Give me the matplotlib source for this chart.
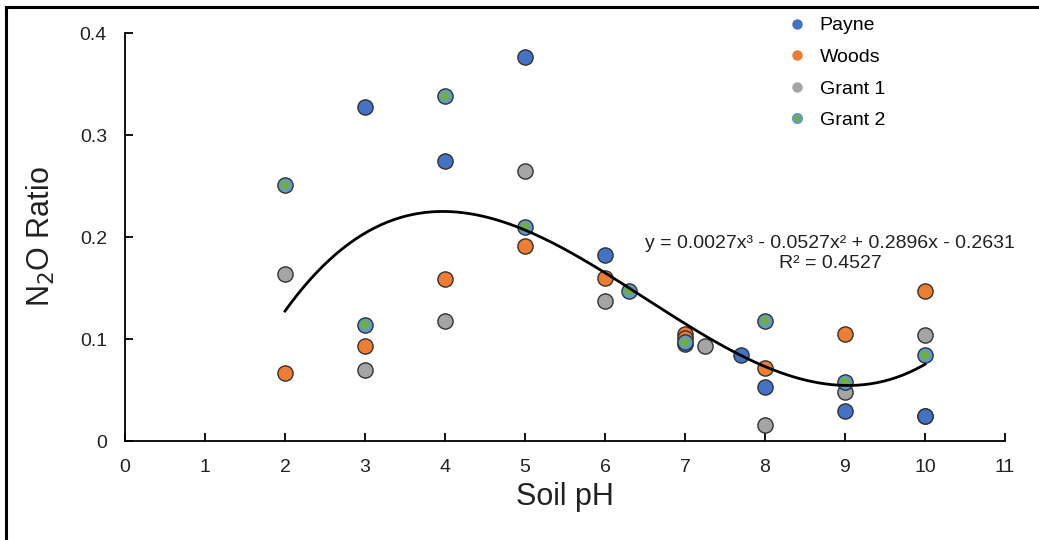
import numpy as np
import matplotlib
matplotlib.use("Agg")
import matplotlib.pyplot as plt
from matplotlib.lines import Line2D

plt.rcParams['font.family'] = ['Liberation Sans', 'DejaVu Sans']

# ---- data ----
payne_x = [3, 4, 5, 6, 7, 7.7, 8, 9, 10, 10]
payne_y = [0.327, 0.275, 0.376, 0.182, 0.095, 0.084, 0.053, 0.029, 0.025, 0.025]

woods_x = [2, 3, 4, 5, 6, 7, 7, 8, 9, 10]
woods_y = [0.067, 0.093, 0.159, 0.191, 0.160, 0.105, 0.101, 0.072, 0.105, 0.147]

grant1_x = [2, 3, 4, 5, 6, 7.25, 8, 9, 10]
grant1_y = [0.164, 0.070, 0.118, 0.265, 0.137, 0.093, 0.016, 0.048, 0.104]

grant2_x = [2, 3, 4, 5, 6.3, 7, 8, 9, 10]
grant2_y = [0.251, 0.114, 0.338, 0.210, 0.147, 0.097, 0.118, 0.058, 0.084]

series_names = ["Payne", "Woods", "Grant 1", "Grant 2"]

# trendline: cubic least-squares fit over all points, drawn from x=2 to x=10
trend_degree = 3
trend_range = [2, 10]
eq_text = "y = 0.0027x³ - 0.0527x² + 0.2896x - 0.2631"
r2_text = "R² = 0.4527"

x_ticks = list(range(0, 12))
y_ticks = [0, 0.1, 0.2, 0.3, 0.4]
y_tick_labels = ["0", "0.1", "0.2", "0.3", "0.4"]

# ---- styling ----
c_payne = "#4472C4"
c_woods = "#ED7D31"
c_grant1 = "#A5A5A5"
c_grant2 = "#70AD47"
c_grant2_edge = "#5B9BD5"
edge = "#333333"

W, H = 1039, 540
fig = plt.figure(figsize=(W / 100, H / 100), dpi=100)
ax = fig.add_axes([125 / W, 1 - 441 / H, (1005 - 125) / W, (441 - 33) / H])

S = 120
ax.scatter(payne_x, payne_y, s=S, c=c_payne, edgecolors=edge, linewidths=1.0, zorder=3)
ax.scatter(woods_x, woods_y, s=S, c=c_woods, edgecolors=edge, linewidths=1.0, zorder=3)
ax.scatter(grant1_x, grant1_y, s=S, c=c_grant1, edgecolors=edge, linewidths=1.0, zorder=3)
ax.scatter(grant2_x, grant2_y, s=S, c=c_grant2_edge, edgecolors=edge, linewidths=1.0, zorder=3)
ax.scatter(grant2_x, grant2_y, s=45, c=c_grant2, edgecolors='none', zorder=3)

all_x = np.array(payne_x + woods_x + grant1_x + grant2_x, dtype=float)
all_y = np.array(payne_y + woods_y + grant1_y + grant2_y, dtype=float)
coef = np.polyfit(all_x, all_y, trend_degree)
xs = np.linspace(trend_range[0], trend_range[1], 200)
ax.plot(xs, np.polyval(coef, xs), color="black", lw=2.0, zorder=4)

ax.set_xlim(0, 11)
ax.set_ylim(0, 0.4)
ax.set_xticks(x_ticks)
ax.set_yticks(y_ticks)
ax.set_yticklabels(y_tick_labels)
for sp in ["top", "right"]:
    ax.spines[sp].set_visible(False)
for sp in ["left", "bottom"]:
    ax.spines[sp].set_linewidth(1.3)
    ax.spines[sp].set_color("black")
ax.tick_params(direction="in", length=6, width=1.3, labelsize=14, colors="black")
ax.tick_params(axis="x", pad=13, labelcolor="#222222")
ax.tick_params(axis="y", pad=13, labelcolor="#222222")

ax.set_xlabel("Soil pH", fontsize=22, labelpad=4, color="#222222")
ax.set_ylabel("N$_2$O Ratio", fontsize=22, labelpad=16, color="#222222")

fig.text(830 / W, 1 - 244 / H, eq_text, fontsize=14, ha="center", va="center", color="#222222")
fig.text(830 / W, 1 - 263 / H, r2_text, fontsize=14, ha="center", va="center", color="#222222")

handles = [
    Line2D([], [], ls="none", marker="o", ms=6.5, mfc=c_payne, mec=c_payne),
    Line2D([], [], ls="none", marker="o", ms=6.5, mfc=c_woods, mec=c_woods),
    Line2D([], [], ls="none", marker="o", ms=6.5, mfc=c_grant1, mec=c_grant1),
    Line2D([], [], ls="none", marker="o", ms=6.5, mfc=c_grant2, mec=c_grant2_edge, mew=1.5),
]
fig.legend(handles, series_names, loc="upper left", bbox_to_anchor=(776 / W, 1 - 7 / H),
           frameon=False, handletextpad=0.55, labelspacing=0.72,
           borderpad=0, handlelength=1.2, prop={'size': 14})

# frame lines (top and left) of the original picture
fig.add_artist(Line2D([6 / W, 1], [1 - 7 / H, 1 - 7 / H], color="black", lw=2.2))
fig.add_artist(Line2D([6 / W, 6 / W], [0, 1 - 7 / H], color="black", lw=2.2))

fig.savefig("out.png", dpi=100)
